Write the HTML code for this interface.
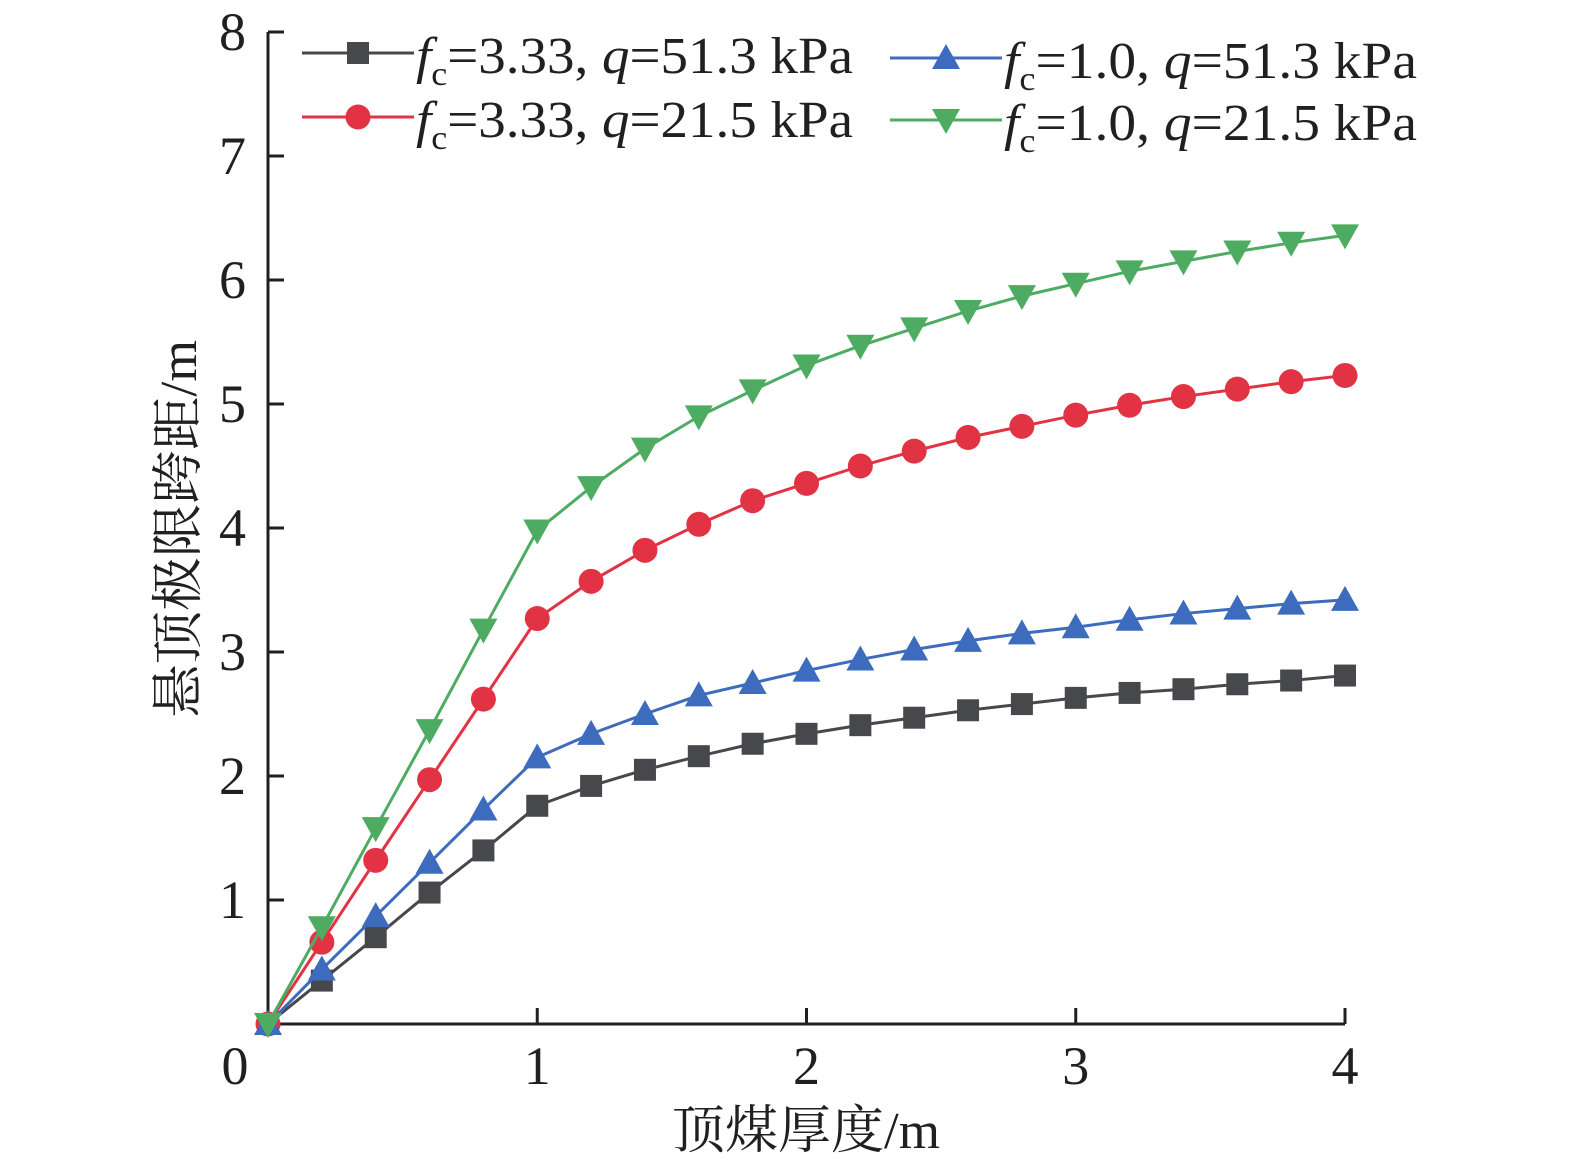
<!DOCTYPE html>
<html><head><meta charset="utf-8">
<style>
html,body{margin:0;padding:0;background:#fff;}
svg{display:block;}
text{font-family:"Liberation Serif","Noto Serif CJK SC",serif;fill:#231f20;}
</style></head>
<body>
<svg id="chart" width="1575" height="1171" viewBox="0 0 1575 1171" xmlns="http://www.w3.org/2000/svg"></svg>
<script>
const xValues=[0,0.2,0.4,0.6,0.8,1.0,1.2,1.4,1.6,1.8,2.0,2.2,2.4,2.6,2.8,3.0,3.2,3.4,3.6,3.8,4.0];
const blackSeries=[0,0.35,0.70,1.06,1.40,1.76,1.92,2.05,2.16,2.26,2.34,2.41,2.47,2.53,2.58,2.63,2.67,2.70,2.74,2.77,2.81];
const redSeries=[0,0.66,1.32,1.97,2.62,3.27,3.57,3.82,4.03,4.22,4.36,4.50,4.62,4.73,4.82,4.91,4.99,5.06,5.12,5.18,5.23];
const blueSeries=[0,0.44,0.87,1.30,1.73,2.15,2.34,2.50,2.65,2.75,2.85,2.94,3.02,3.09,3.15,3.20,3.26,3.31,3.35,3.39,3.42];
const greenSeries=[0,0.78,1.58,2.37,3.18,3.98,4.33,4.64,4.90,5.11,5.31,5.47,5.61,5.75,5.87,5.97,6.07,6.15,6.23,6.30,6.36];
const xTicks=[1,2,3,4];
const yTicks=[1,2,3,4,5,6,7,8];

const svg=document.getElementById('chart');
const NS='http://www.w3.org/2000/svg';
const X0=268,X1=1345,Y0=1024,Y1=32;
const sx=v=>X0+(X1-X0)*v/4;
const sy=v=>Y0-(Y0-Y1)*v/8;
function mk(tag,attrs,parent){const e=document.createElementNS(NS,tag);for(const k in attrs)e.setAttribute(k,attrs[k]);(parent||svg).appendChild(e);return e;}

const axes=mk('g',{});


mk('line',{x1:X0,y1:Y1,x2:X0,y2:Y0,stroke:'#231f20','stroke-width':3},axes);
mk('line',{x1:X0,y1:Y0,x2:X1,y2:Y0,stroke:'#231f20','stroke-width':3},axes);
yTicks.forEach(t=>{
  const l=mk('line',{x1:X0,y1:sy(t),x2:X0+16,y2:sy(t),stroke:'#231f20','stroke-width':3},axes);
  
  
  const tx=mk('text',{x:246,y:sy(t)+18,'font-size':54,'text-anchor':'end'},axes);
  
  
  tx.textContent=t;
});
xTicks.forEach(t=>{
  const l=mk('line',{x1:sx(t),y1:Y0,x2:sx(t),y2:Y0-16,stroke:'#231f20','stroke-width':3},axes);
  
  
  const tx=mk('text',{x:sx(t),y:1084,'font-size':54,'text-anchor':'middle'},axes);
  
  
  tx.textContent=t;
});
const zero=mk('text',{x:235,y:1084,'font-size':54,'text-anchor':'middle'},axes);


zero.textContent='0';
const xt=mk('text',{x:672,y:1148,'font-size':52,textLength:268,lengthAdjust:'spacingAndGlyphs'},axes);


xt.textContent='顶煤厚度/m';
const yt=mk('text',{x:0,y:0,'font-size':52,textLength:378,lengthAdjust:'spacingAndGlyphs',transform:'translate(196,718) rotate(-90)'},axes);


yt.textContent='悬顶极限跨距/m';

function marker(type,cx,cy,color,parent){
  if(type==='square')return mk('rect',{x:cx-11,y:cy-11,width:22,height:22,fill:color},parent);
  if(type==='circle')return mk('circle',{cx:cx,cy:cy,r:12.5,fill:color},parent);
  if(type==='up')return mk('polygon',{points:`${cx},${cy-14} ${cx+14},${cy+11} ${cx-14},${cy+11}`,fill:color},parent);
  return mk('polygon',{points:`${cx},${cy+14} ${cx+14},${cy-11} ${cx-14},${cy-11}`,fill:color},parent);
}
const series=[
 {name:'series-fc333-q513',vals:blackSeries,color:'#46484c',m:'square'},
 {name:'series-fc333-q215',vals:redSeries,color:'#e23344',m:'circle'},
 {name:'series-fc10-q513',vals:blueSeries,color:'#3d6bbd',m:'up'},
 {name:'series-fc10-q215',vals:greenSeries,color:'#4dac62',m:'down'}
];
series.forEach(s=>{
  const g=mk('g',{});
  
  
  const pl=mk('polyline',{points:s.vals.map((v,i)=>sx(xValues[i])+','+sy(v)).join(' '),fill:'none',stroke:s.color,'stroke-width':3},g);
  
  
  s.vals.forEach((v,i)=>{
    const m=marker(s.m,sx(xValues[i]),sy(v),s.color,g);
    
    
  });
});

const leg=mk('g',{});


const entries=[
 {x:302,y:53,w:437,s:series[0],fc:'3.33',q:'51.3'},
 {x:302,y:117,w:437,s:series[1],fc:'3.33',q:'21.5'},
 {x:890,y:58,w:413,s:series[2],fc:'1.0',q:'51.3'},
 {x:890,y:120,w:413,s:series[3],fc:'1.0',q:'21.5'}
];
entries.forEach(e=>{
  const g=mk('g',{},leg);
  
  
  mk('line',{x1:e.x,y1:e.y,x2:e.x+112,y2:e.y,stroke:e.s.color,'stroke-width':3},g);
  marker(e.s.m,e.x+56,e.y,e.s.color,g);
  const t=mk('text',{x:e.x+114,y:e.y+20,'font-size':52,textLength:e.w,lengthAdjust:'spacingAndGlyphs'},g);
  t.innerHTML=`<tspan font-style="italic">f</tspan><tspan font-size="34" dy="12">c</tspan><tspan dy="-12">=${e.fc}, </tspan><tspan font-style="italic">q</tspan>=${e.q} kPa`;
});
</script>
</body></html>
